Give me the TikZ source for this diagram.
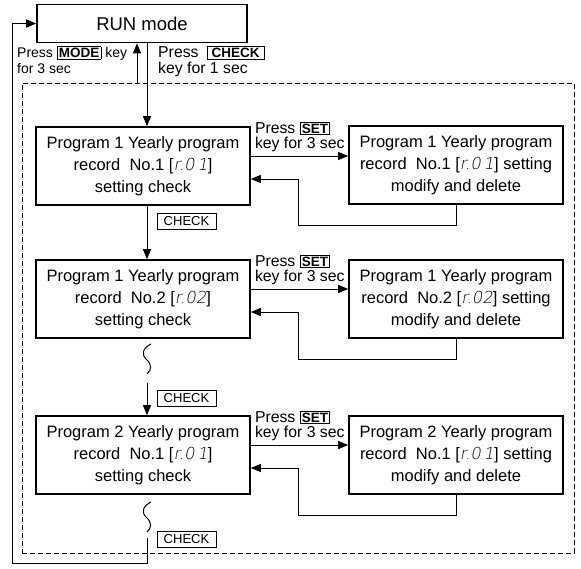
\documentclass[tikz,border=0pt]{standalone}
\usepackage{fontspec}
\setmainfont{Liberation Sans}
\newfontfamily\segfont[FakeSlant=0.18]{DejaVu Sans ExtraLight}
\usepackage{tikz}
\usetikzlibrary{arrows.meta}
\newcommand{\keycap}[1]{{\setlength{\fboxsep}{1.2pt}\setlength{\fboxrule}{0.8pt}\fbox{\fontsize{13.5}{13.5}\selectfont\bfseries #1}}}
\newcommand{\seg}[1]{{\segfont #1}}
\tikzstyle{runbox} = [rectangle, draw=black, line width=1.6pt, minimum width=210pt, minimum height=38pt, font=\fontsize{18.5}{20}\selectfont]
\tikzstyle{prgbox} = [rectangle, draw=black, line width=1.6pt, minimum width=214pt, minimum height=78pt, inner sep=0pt, align=center, font=\fontsize{16.5}{22}\selectfont]
\tikzstyle{keytag} = [rectangle, draw=black, line width=0.8pt, minimum width=59pt, minimum height=16pt, inner sep=0pt, font=\fontsize{13}{13}\selectfont]
\tikzstyle{presstext} = [inner sep=0pt, align=left, font=\fontsize{14}{15.5}\selectfont]
\tikzstyle{presswide} = [presstext, font=\fontsize{15.8}{15.5}\selectfont]
\tikzstyle{zone} = [rectangle, draw=black, line width=0.9pt, dash pattern=on 5pt off 3pt, minimum width=552pt, minimum height=470pt]
\tikzstyle{wire} = [line width=1pt]
\tikzstyle{link} = [wire, -{Triangle[length=10pt,width=8pt]}]

\begin{document}
\begin{tikzpicture}[x=1pt, y=-1pt]
\useasboundingbox (0,0) rectangle (581,568);
% RUN mode and the dashed setting zone
\node[runbox] (run) at (142,23.5) {RUN mode};
\node[zone] (area) at (298,318) {};
\coordinate (spine) at (147,0);
\coordinate (upline) at (137,0);
% Key hints round RUN mode
\node[presstext, anchor=north west] (modehint) at (17,46) {Press \keycap{MODE} key\\for 3 sec};
\node[presswide, anchor=north west] (checkhint) at (158,46) {Press\hspace{8pt}\keycap{\hspace{3pt}CHECK\hspace{3pt}}\\key for 1 sec};
% Left column, setting check
\node[prgbox] (chk1) at (143,166) {Program 1 Yearly program\\record\ \ No.1 [\seg{r.0\,1}]\\setting check};
\node[prgbox] (chk2) at (143,299) {Program 1 Yearly program\\record\ \ No.2 [\seg{r.02}]\\setting check};
\node[prgbox] (chk3) at (143,455) {Program 2 Yearly program\\record\ \ No.1 [\seg{r.0\,1}]\\setting check};
% Right column, modify and delete
\node[prgbox] (mod1) at (456,165) {Program 1 Yearly program\\record\ \ No.1 [\seg{r.0\,1}] setting\\modify and delete};
\node[prgbox] (mod2) at (456,299) {Program 1 Yearly program\\record\ \ No.2 [\seg{r.02}] setting\\modify and delete};
\node[prgbox] (mod3) at (456,455) {Program 2 Yearly program\\record\ \ No.1 [\seg{r.0\,1}] setting\\modify and delete};
% CHECK tags beside the spine
\node[keytag] (tag1) at (186.5,221) {CHECK};
\node[keytag] (tag2) at (186.5,398) {CHECK};
\node[keytag] (tag3) at (186.5,539) {CHECK};
% Main spine
\draw[link] (area.north -| upline) -- (run.south -| upline);
\draw[link] (run.south -| spine) -- (chk1.north -| spine);
\draw[link] (chk1.south -| spine) -- (chk2.north -| spine);
\coordinate (cont1) at (147,383);
\draw[link] (cont1) -- (chk3.north -| spine);
\coordinate (cont2) at (147,538);
\draw[link] (cont2) -- ++(0,25) -- ++(-135,0) |- (run.west);
% Breaks in the spine
\draw[wire] (151,344) .. controls (143,348) and (141,354) .. (146,359) .. controls (152,364) and (152,370) .. (147,374);
\draw[wire] (151,502) .. controls (143,506) and (141,512) .. (146,517) .. controls (152,522) and (152,528) .. (147,532);
% Rows: SET into modify, back to check
\foreach \i in {1,2,3} {
  \draw[link] ([yshift=10pt]chk\i.east) -- ([yshift=10pt]chk\i.east -| mod\i.west);
  \node[presswide, anchor=south west] (set\i) at ([xshift=4pt,yshift=14pt]chk\i.east) {Press \keycap{SET}\\key for 3 sec};
  \draw[link] (mod\i.south) -- ++(0,21) -- ++(-158,0) |- ([yshift=-13pt]chk\i.east);
}
\end{tikzpicture}
\end{document}
